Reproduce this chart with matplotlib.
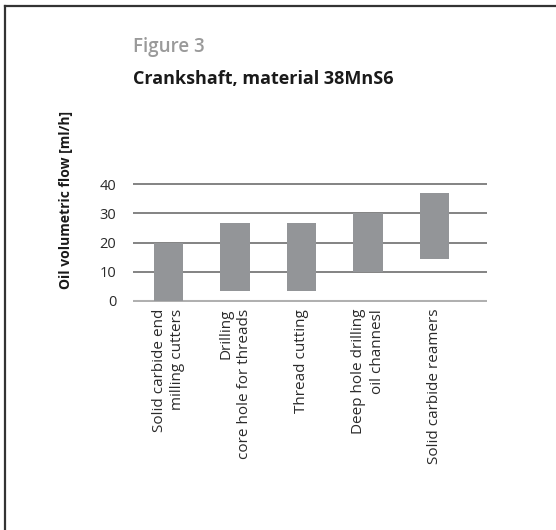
import matplotlib
matplotlib.use('Agg')
import matplotlib.pyplot as plt
from matplotlib.lines import Line2D

plt.rcParams['font.family'] = ['Open Sans', 'DejaVu Sans']

# data
categories = ['Solid carbide end\nmilling cutters',
              'Drilling\ncore hole for threads',
              'Thread cutting',
              'Deep hole drilling\noil channesl',
              'Solid carbide reamers']
flow_min = [0, 3.5, 3.5, 10, 14.5]
flow_max = [20, 26.5, 26.5, 30, 37]
y_ticks = [0, 10, 20, 30, 40]

W, H = 556, 530
fig = plt.figure(figsize=(W / 100, H / 100), dpi=100)

# axes placed in pixel terms: x 133..487, y(0)=301, y(40)=184
ymin, ymax = -0.3, 40.3
ppu = (301 - 184) / 40.0
top_px = 184 - (ymax - 40) * ppu
bot_px = 301 + (0 - ymin) * ppu
ax = fig.add_axes([133 / W, 1 - bot_px / H, (487 - 133) / W, (bot_px - top_px) / H])

x = list(range(len(categories)))
heights = [hi - lo for lo, hi in zip(flow_min, flow_max)]
ax.bar(x, heights, bottom=flow_min, width=0.44, color='#939598', zorder=3)

ax.set_ylim(ymin, ymax)
ax.set_xlim(-0.534, 4.789)
ax.set_yticks(y_ticks)
for v in y_ticks[1:]:
    ax.axhline(v, color='#7a7a7a', lw=1.3, zorder=1)
ax.axhline(0, color='#b0b0b0', lw=2.2, zorder=2)

ax.set_xticks(x)
ax.set_xticklabels(categories, rotation=90, ha='center', va='top',
                   multialignment='right', fontsize=11, linespacing=1.35,
                   color='#2a2a2a')
ax.tick_params(axis='both', length=0)
ax.tick_params(axis='x', pad=5)
ax.tick_params(axis='y', pad=12, labelsize=10.5, labelcolor='#2a2a2a')
for s in ax.spines.values():
    s.set_visible(False)

ax.set_ylabel('Oil volumetric flow [ml/h]', fontsize=10, fontweight='bold',
              color='#1a1a1a')
ax.yaxis.set_label_coords(-((133 - 73) / (487 - 133)), 1 - (200 - top_px) / (bot_px - top_px))

fig.text(133 / W, 1 - 52 / H, 'Figure 3', fontsize=13.5, color='#9a9a9a',
         fontweight='semibold', ha='left', va='baseline')
fig.text(133 / W, 1 - 84 / H, 'Crankshaft, material 38MnS6', fontsize=13,
         fontweight='bold', color='#1a1a1a', ha='left', va='baseline')

# frame: top and left lines
fig.add_artist(Line2D([5 / W, 5 / W], [0, 1 - 5.5 / H], transform=fig.transFigure,
                      color='#333333', lw=1.6))
fig.add_artist(Line2D([5 / W, 1], [1 - 5.5 / H, 1 - 5.5 / H], transform=fig.transFigure,
                      color='#333333', lw=1.6))

fig.savefig('out.png', dpi=100)
